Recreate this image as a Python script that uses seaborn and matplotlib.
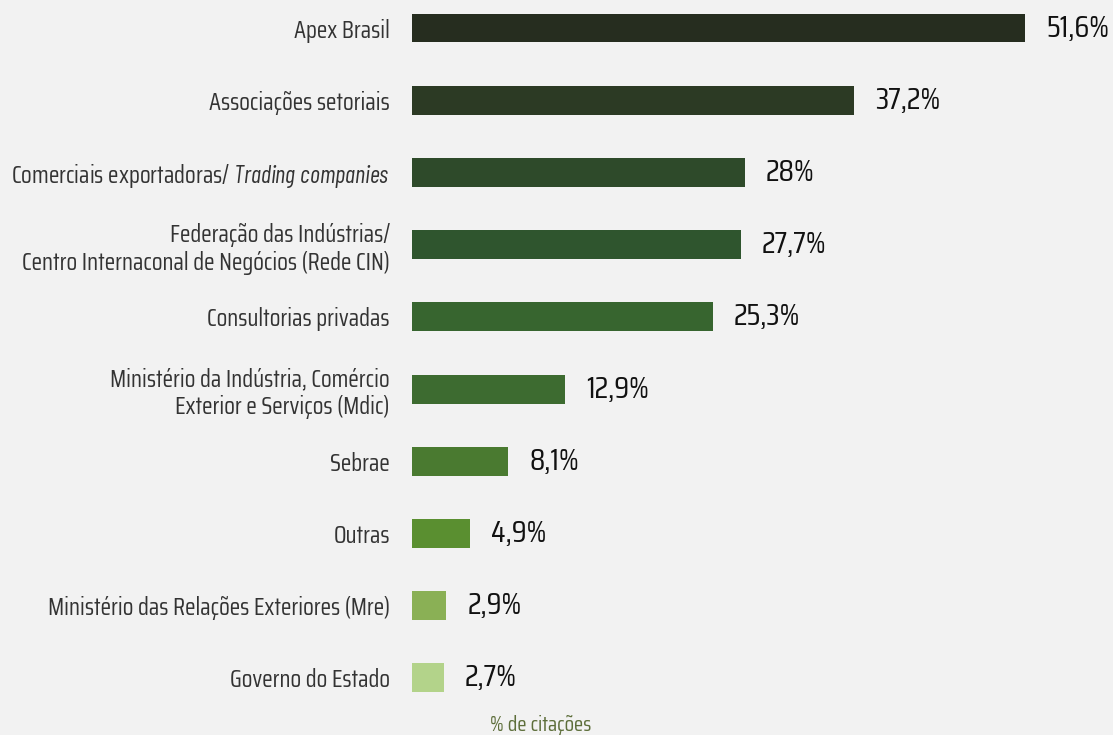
import pandas as pd
import seaborn as sns
import matplotlib.pyplot as plt

# Data
categories = [
    "Apex Brasil",
    "Associações setoriais",
    "Comerciais exportadoras/ $\\it{Trading\\ companies}$",
    "Federação das Indústrias/\nCentro Internaconal de Negócios (Rede CIN)",
    "Consultorias privadas",
    "Ministério da Indústria, Comércio\nExterior e Serviços (Mdic)",
    "Sebrae",
    "Outras",
    "Ministério das Relações Exteriores (Mre)",
    "Governo do Estado",
]
values = [51.6, 37.2, 28.0, 27.7, 25.3, 12.9, 8.1, 4.9, 2.9, 2.7]
colors = ["#262d1f", "#2c3a24", "#2e4a2a", "#2f552e", "#37652f",
          "#3d6b30", "#4a7a30", "#5a8f30", "#8ab055", "#b3d38a"]

df = pd.DataFrame({"cat": categories, "val": values})

sns.set_style("white")
fam = ["Saira Condensed", "DejaVu Sans"]
plt.rcParams["font.family"] = fam
plt.rcParams["mathtext.fontset"] = "custom"
plt.rcParams["mathtext.it"] = "Barlow Condensed:italic"
plt.rcParams["mathtext.rm"] = "Saira Condensed"

bg = "#f2f2f2"
fig = plt.figure(figsize=(11.13, 7.35), dpi=100, facecolor=bg)
ax = fig.add_axes([412 / 1113, 21 / 735, 701 / 1113, 714 / 735])
ax.set_facecolor(bg)

sns.barplot(data=df, x="val", y="cat", hue="cat", palette=colors,
            width=0.4, legend=False, ax=ax, saturation=1, linewidth=0)

ax.set_xlim(0, 59.0)
ax.set_ylim(9.5, -0.388)

# value labels, comma as decimal mark
lbls = [(f"{v:.1f}".replace(".", ",") if v % 1 else f"{int(v)}") + "%" for v in values]
for cont, lab in zip(ax.containers, lbls):
    ax.bar_label(cont, labels=[lab], padding=15, fontsize=22.5, color="#111111")

ax.set_xlabel("")
ax.set_ylabel("")
ax.set_xticks([])
ax.tick_params(axis="y", length=0, pad=16, labelsize=17.5, labelcolor="#333333")
for s in ax.spines.values():
    s.set_visible(False)

fig.text(541 / 1113, 1 - 725 / 735, "% de citações", ha="center", va="center",
         fontsize=15.5, color="#5d6e3a")

fig.savefig("out.png", dpi=100, facecolor=bg)
